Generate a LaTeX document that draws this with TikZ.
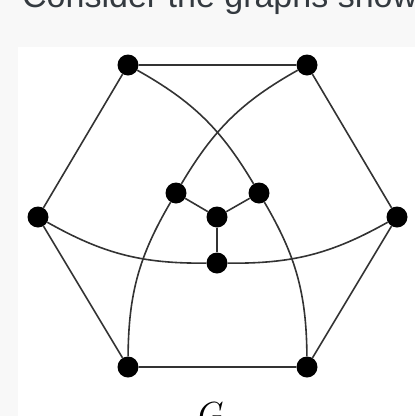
\documentclass[tikz,border=0pt]{standalone}
\usepackage{fontspec}
\newfontfamily\uifont{Liberation Sans}
\usepackage{xcolor}
\usepackage{tikz}
\usetikzlibrary{positioning}
\definecolor{pagebg}{HTML}{F8F8F8}
\definecolor{uitext}{HTML}{343A40}

\begin{document}
\begin{tikzpicture}[
x=1pt, y=-1pt,
vert/.style={circle, fill=black, inner sep=0pt, minimum size=21pt},
edge/.style={line width=1.6pt, draw=black!80}
]
\useasboundingbox (0,0) rectangle (415,416);
\fill[pagebg] (0,0) rectangle (415,416);
\fill[white] (18,47) rectangle (415,416);
\node[anchor=base west, inner sep=0pt, text=uitext, font=\uifont\fontsize{34}{40}\selectfont] (intro) at (22,7.5) {Consider the graphs show};

% outer hexagon
\node[vert] (tl) at (128,65) {};
\node[vert] (tr) at (307,65) {};
\node[vert] (l) at (38,217) {};
\node[vert] (r) at (397,217) {};
\node[vert] (bl) at (128,367) {};
\node[vert] (br) at (307,367) {};
% inner star
\node[vert] (il) at (176,193) {};
\node[vert] (ir) at (259,193) {};
\node[vert] (c) at (217,217) {};
\node[vert] (b) at (217,263) {};

\draw[edge] (tl) -- (tr) -- (r) -- (br) -- (bl) -- (l) -- (tl);
\draw[edge] (il) -- (c) -- (ir);
\draw[edge] (c) -- (b);
\draw[edge] (tl) to[bend left=15] (ir);
\draw[edge] (tr) to[bend right=15] (il);
\draw[edge] (l) to[bend right=15] (b);
\draw[edge] (r) to[bend left=15] (b);
\draw[edge] (il) to[bend right=15] (bl);
\draw[edge] (ir) to[bend left=15] (br);

\node[anchor=base, inner sep=0pt, scale=3.2] (name) at (211,424) {$G$};
\end{tikzpicture}
\end{document}
